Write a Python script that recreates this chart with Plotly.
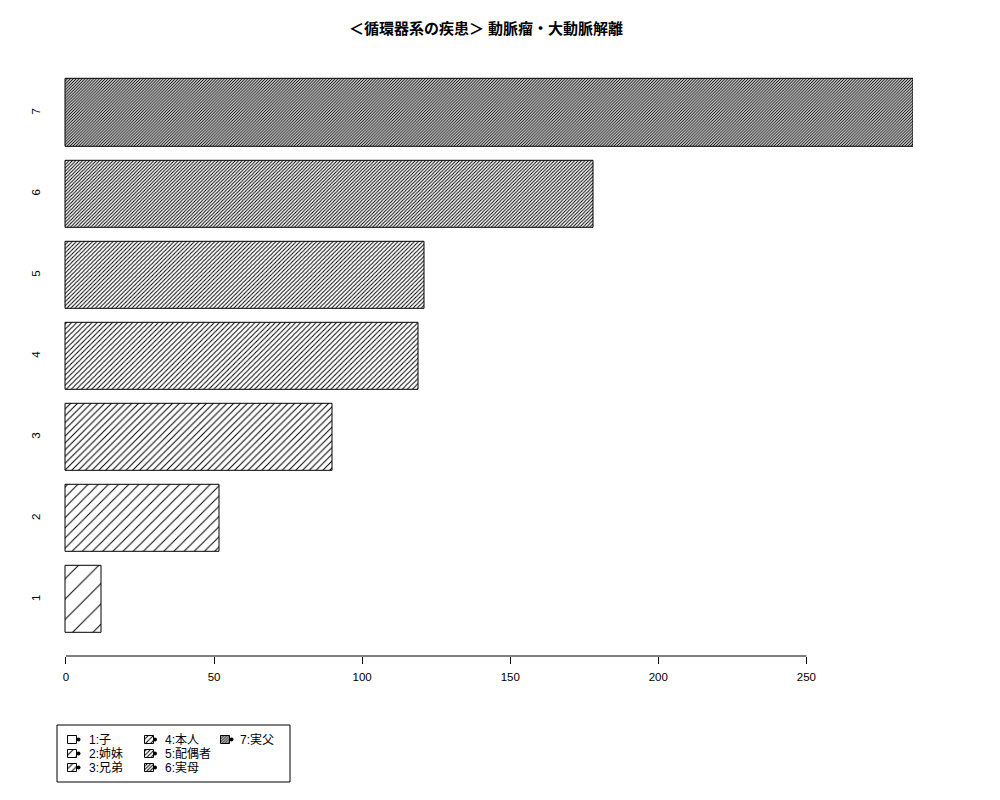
import plotly.graph_objects as go

# data
categories = ["1", "2", "3", "4", "5", "6", "7"]
values = [12, 52, 90, 119, 121, 178, 286]
legend_labels = ["1:子", "2:姉妹", "3:兄弟", "4:本人", "5:配偶者", "6:実母", "7:実父"]
x_ticks = [0, 50, 100, 150, 200, 250]
title = "＜循環器系の疾患＞ 動脈瘤・大動脈解離"

# hatch density (lines per inch), like R's density=
densities = [5, 10, 15, 20, 25, 30, 35]

FONT = "Liberation Sans, Noto Sans CJK JP, sans-serif"

# page puts the plot div 8px in from the top-left corner
OFF = 8

hatch_size = [72 / d for d in densities]  # perpendicular gap in px
hatch_solid = [1 / s for s in hatch_size]  # ~1px lines

fig = go.Figure()

fig.add_trace(go.Bar(
    x=values,
    y=categories,
    orientation="h",
    width=0.833,
    marker=dict(
        color="white",
        line=dict(color="black", width=1),
        pattern=dict(shape="/", size=hatch_size, solidity=hatch_solid,
                     fgcolor="black", bgcolor="white", fillmode="replace"),
    ),
    showlegend=False,
    hoverinfo="x+y",
))

# axis line only spans the tick range, as in base R
fig.add_shape(type="line", xref="x", yref="y domain",
              x0=x_ticks[0], x1=x_ticks[-1], y0=0, y1=0,
              line=dict(color="black", width=1))

# hand-made legend in a small inset axis (column-major like R)
n_rows = 3
cols = [i // n_rows for i in range(len(legend_labels))]
rows = [i % n_rows for i in range(len(legend_labels))]
sw_x = [15.5 + c * 76.5 for c in cols]
sw_y = [14.5 + r * 14 for r in rows]

fig.add_trace(go.Bar(
    x=sw_x,
    y=[8] * len(sw_x),
    base=[y - 4 for y in sw_y],
    width=9,
    xaxis="x2",
    yaxis="y2",
    marker=dict(
        color="white",
        line=dict(color="black", width=1),
        pattern=dict(shape="/", size=hatch_size, solidity=hatch_solid,
                     fgcolor="black", bgcolor="white", fillmode="replace"),
    ),
    showlegend=False,
    hoverinfo="skip",
))
fig.add_trace(go.Scatter(
    x=[x + 6 for x in sw_x],
    y=sw_y,
    mode="markers",
    marker=dict(color="black", size=4),
    xaxis="x2",
    yaxis="y2",
    showlegend=False,
    hoverinfo="skip",
))
for lab, c, y in zip(legend_labels, cols, sw_y):
    fig.add_annotation(x=30 + c * 75.5, y=y, xref="x2", yref="y2",
                       text=lab, showarrow=False, xanchor="left", yanchor="middle",
                       font=dict(family=FONT, size=12, color="black"))
fig.add_shape(type="rect", xref="x2 domain", yref="y2 domain",
              x0=0, x1=1, y0=0, y1=1, line=dict(color="black", width=1))

fig.update_layout(
    width=1000,
    height=800,
    margin=dict(l=0, r=0, t=0, b=0),
    paper_bgcolor="white",
    plot_bgcolor="white",
    font=dict(family=FONT, size=12, color="black"),
    bargap=0,
    title=dict(text=title, x=(486 - OFF) / 1000, y=1 - (29 - OFF) / 800,
               xanchor="center", yanchor="middle",
               font=dict(family=FONT, size=15, color="black", weight="bold")),
    xaxis=dict(
        domain=[(57.5 - OFF) / 1000, (913 - OFF) / 1000],
        range=[-0.01 * max(values), max(values)],
        tickvals=x_ticks,
        ticks="outside",
        ticklen=7,
        tickcolor="black",
        showline=False,
        showgrid=False,
        zeroline=False,
        tickfont=dict(size=11.5),
        ticklabelstandoff=3,
    ),
    yaxis=dict(
        domain=[1 - (656 - OFF) / 800, 1 - (56.8 - OFF) / 800],
        type="category",
        range=[-0.697, 6.693],
        showline=False,
        showgrid=False,
        zeroline=False,
        ticks="",
        tickangle=-90,
        tickfont=dict(size=11.5),
        ticklabelstandoff=14,
    ),
    xaxis2=dict(domain=[(57 - OFF) / 1000, (290 - OFF) / 1000], range=[0, 233],
                visible=False, fixedrange=True, anchor="y2"),
    yaxis2=dict(domain=[1 - (782 - OFF) / 800, 1 - (725 - OFF) / 800], range=[57, 0],
                visible=False, fixedrange=True, anchor="x2"),
)

fig.write_html("out.html")
